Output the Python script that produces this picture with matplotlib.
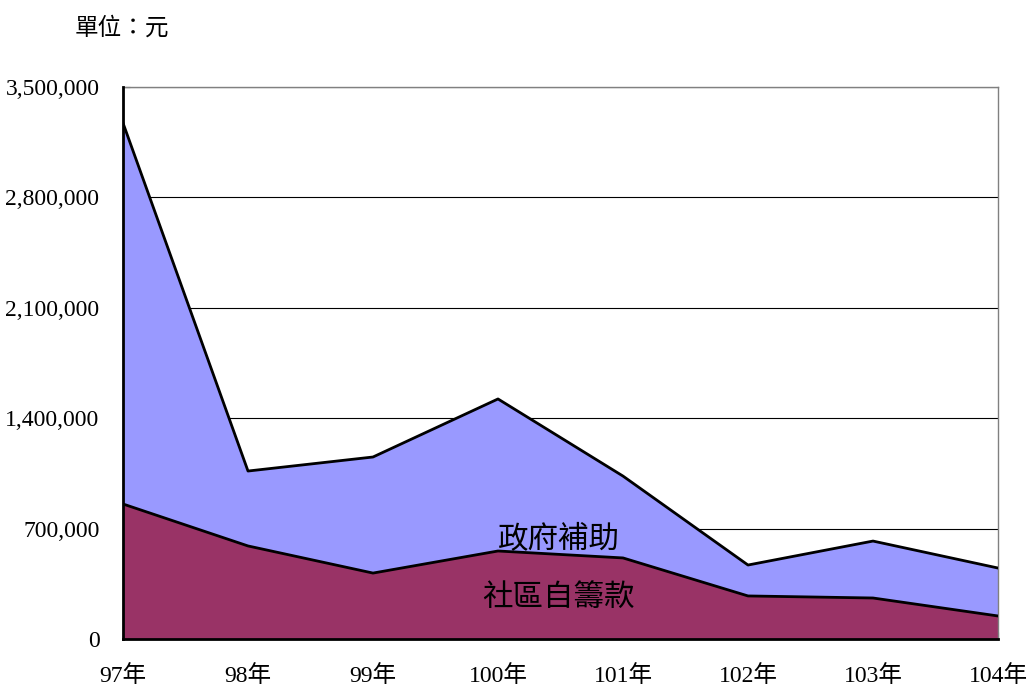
import matplotlib.pyplot as plt
import numpy as np

plt.rcParams['font.family'] = ['Liberation Serif', 'Noto Sans CJK TC', 'DejaVu Sans']

# 年度與金額(元)
years = ['97年', '98年', '99年', '100年', '101年', '102年', '103年', '104年']
community = [856000, 590000, 418000, 558000, 514000, 273000, 260000, 146000]
total = [3272000, 1065000, 1154000, 1522000, 1033000, 469000, 621000, 450000]
government = [t - c for t, c in zip(total, community)]

yticks = [0, 700000, 1400000, 2100000, 2800000, 3500000]

fig = plt.figure(figsize=(10.29, 6.88), dpi=100)
ax = fig.add_axes([123 / 1029, 1 - 639 / 688, (998 - 123) / 1029, (639 - 87) / 688])

x = np.arange(len(years))
ax.stackplot(x, community, government, colors=['#993366', '#9999FF'], zorder=2)
ax.plot(x, community, color='black', lw=2, zorder=3)
ax.plot(x, total, color='black', lw=2, zorder=3)

ax.set_xlim(0, len(years) - 1)
ax.set_ylim(0, 3500000)
ax.set_xticks(x)
ax.set_xticklabels(years, fontsize=17)
ax.set_yticks(yticks)
ax.set_yticklabels([f'{v:,}' for v in yticks], fontsize=17)
ax.yaxis.grid(True, color='black', lw=0.8, zorder=1)
ax.tick_params(direction='in', length=5)
ax.tick_params(axis='x', pad=19)
ax.tick_params(axis='y', pad=17)

for s in ['left', 'bottom']:
    ax.spines[s].set_linewidth(2)
    ax.spines[s].set_zorder(4)
for s in ['top', 'right']:
    ax.spines[s].set_color('#808080')
    ax.spines[s].set_linewidth(1)

ax.text(3.0, 625000, '政府補助', fontsize=22, ha='left', va='center', zorder=5)
ax.text(2.87, 255000, '社區自籌款', fontsize=22, ha='left', va='center', zorder=5)

fig.text(75 / 1029, 1 - 28 / 688, '單位：元', fontsize=17, ha='left', va='center')

fig.savefig('out.png', dpi=100)
